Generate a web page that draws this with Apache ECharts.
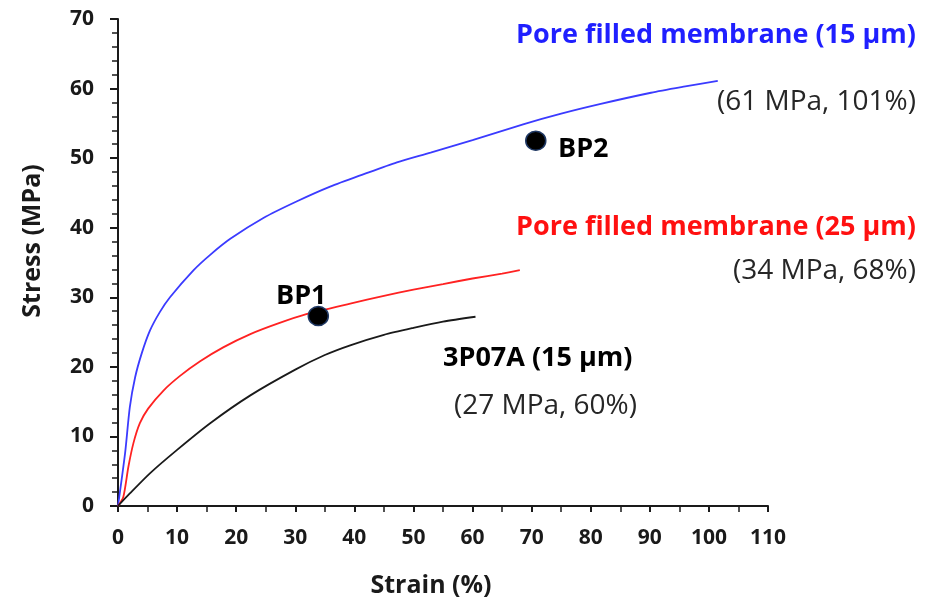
<!DOCTYPE html>
<html><head><meta charset="utf-8">
<script src="https://cdn.jsdelivr.net/npm/echarts@6/dist/echarts.min.js"></script>
<style>html,body{margin:0;padding:0;background:#fff}#c{width:932px;height:603px}</style>
</head><body><div id="c"></div>
<script>
const blueStrain = [0, 1.2, 2, 2.9, 4, 5.4, 7.1, 8.8, 12.8, 15.6, 19, 24.6, 30.3, 35.9, 41.6, 47.2, 52.9, 60, 68.7, 75, 81.7, 90.2, 96, 101.5];
const blueStress = [0, 7.6, 14.2, 18.5, 21.9, 25.2, 27.9, 30, 33.9, 36.1, 38.4, 41.4, 43.8, 45.9, 47.7, 49.4, 50.8, 52.6, 54.9, 56.4, 57.8, 59.4, 60.3, 61.1];
const redStrain = [0, 0.9, 1.75, 2.6, 3.7, 5.1, 7.7, 10.5, 13.9, 17.8, 22.4, 27, 32, 39.3, 45, 50, 55, 60, 65, 68];
const redStress = [0, 1.3, 5.6, 9.0, 11.9, 14.0, 16.6, 18.7, 20.8, 22.8, 24.7, 26.2, 27.6, 29.1, 30.2, 31.1, 31.9, 32.7, 33.4, 33.9];
const blackStrain = [0, 2, 5.4, 9.9, 15.6, 22.4, 30, 35, 39.3, 45, 50, 55, 60.5];
const blackStress = [0, 1.8, 4.7, 8.0, 11.9, 15.9, 19.6, 21.7, 23.1, 24.6, 25.6, 26.5, 27.2];
const pointNames = ['BP1', 'BP2'];
const pointStrain = [33.9, 70.7];
const pointStress = [27.3, 52.5];
const xTicks = [0, 10, 20, 30, 40, 50, 60, 70, 80, 90, 100, 110];
const yTicks = [0, 10, 20, 30, 40, 50, 60, 70];

const zip = (a, b) => a.map((v, i) => [v, b[i]]);
const FONT = '"Open Sans", "Noto Sans", sans-serif';
const INK = '#1a1a1a';
const chart = echarts.init(document.getElementById('c'));
chart.setOption({
  animation: false,
  grid: { left: 118, right: 164, top: 19, bottom: 97 },
  xAxis: {
    type: 'value', min: 0, max: 110, interval: 10,
    axisLine: { lineStyle: { color: INK, width: 2 } },
    axisTick: { show: true, length: 6, lineStyle: { color: INK, width: 2 } },
    minorTick: { show: true, splitNumber: 2, length: 6, lineStyle: { color: INK, width: 1.5 } },
    splitLine: { show: false },
    axisLabel: { fontFamily: FONT, fontWeight: 'bold', fontSize: 21, color: INK, margin: 22,
      formatter: v => xTicks.includes(v) ? String(v) : '' }
  },
  yAxis: {
    type: 'value', min: 0, max: 70, interval: 10,
    axisLine: { show: true, lineStyle: { color: INK, width: 2 } },
    axisTick: { show: true, length: 8, lineStyle: { color: INK, width: 2 } },
    minorTick: { show: true, splitNumber: 5, length: 6, lineStyle: { color: INK, width: 1.5 } },
    splitLine: { show: false },
    axisLabel: { fontFamily: FONT, fontWeight: 'bold', fontSize: 21, color: INK, margin: 24,
      formatter: v => yTicks.includes(v) ? String(v) : '' }
  },
  series: [
    { type: 'line', data: zip(blueStrain, blueStress), smooth: 0.25, showSymbol: false,
      lineStyle: { color: '#3b3bff', width: 1.8 }, z: 3 },
    { type: 'line', data: zip(redStrain, redStress), smooth: 0.25, showSymbol: false,
      lineStyle: { color: '#ff2222', width: 1.8 }, z: 3 },
    { type: 'line', data: zip(blackStrain, blackStress), smooth: 0.25, showSymbol: false,
      lineStyle: { color: INK, width: 1.8 }, z: 3 },
    { type: 'scatter', data: zip(pointStrain, pointStress), symbolSize: [20, 19],
      itemStyle: { color: '#000', opacity: 1, borderColor: '#1f3864', borderWidth: 1.5 }, z: 5 }
  ],
  graphic: [
    { type: 'text', x: 431, y: 586, style: { text: 'Strain (%)', fill: INK, font: 'bold 25px ' + FONT, textAlign: 'center', textVerticalAlign: 'middle' } },
    { type: 'text', x: 33, y: 241, rotation: Math.PI / 2, style: { text: 'Stress (MPa)', fill: INK, font: 'bold 25px ' + FONT, textAlign: 'center', textVerticalAlign: 'middle' } },
    { type: 'text', x: 916, y: 35, style: { text: 'Pore filled membrane (15 µm)', fill: '#1f1fff', font: 'bold 27px ' + FONT, textAlign: 'right', textVerticalAlign: 'middle' } },
    { type: 'text', x: 916, y: 102, style: { text: '(61 MPa, 101%)', fill: '#262626', font: '28px ' + FONT, textAlign: 'right', textVerticalAlign: 'middle' } },
    { type: 'text', x: 558, y: 149, style: { text: 'BP2', fill: '#000', font: 'bold 27px ' + FONT, textAlign: 'left', textVerticalAlign: 'middle' } },
    { type: 'text', x: 916, y: 227, style: { text: 'Pore filled membrane (25 µm)', fill: '#ff1010', font: 'bold 27px ' + FONT, textAlign: 'right', textVerticalAlign: 'middle' } },
    { type: 'text', x: 916, y: 271, style: { text: '(34 MPa, 68%)', fill: '#262626', font: '28px ' + FONT, textAlign: 'right', textVerticalAlign: 'middle' } },
    { type: 'text', x: 276, y: 296, style: { text: 'BP1', fill: '#000', font: 'bold 27px ' + FONT, textAlign: 'left', textVerticalAlign: 'middle' } },
    { type: 'text', x: 443, y: 358, style: { text: '3P07A (15 µm)', fill: '#000', font: 'bold 27px ' + FONT, textAlign: 'left', textVerticalAlign: 'middle' } },
    { type: 'text', x: 637, y: 406, style: { text: '(27 MPa, 60%)', fill: '#262626', font: '28px ' + FONT, textAlign: 'right', textVerticalAlign: 'middle' } }
  ]
});
</script></body></html>
